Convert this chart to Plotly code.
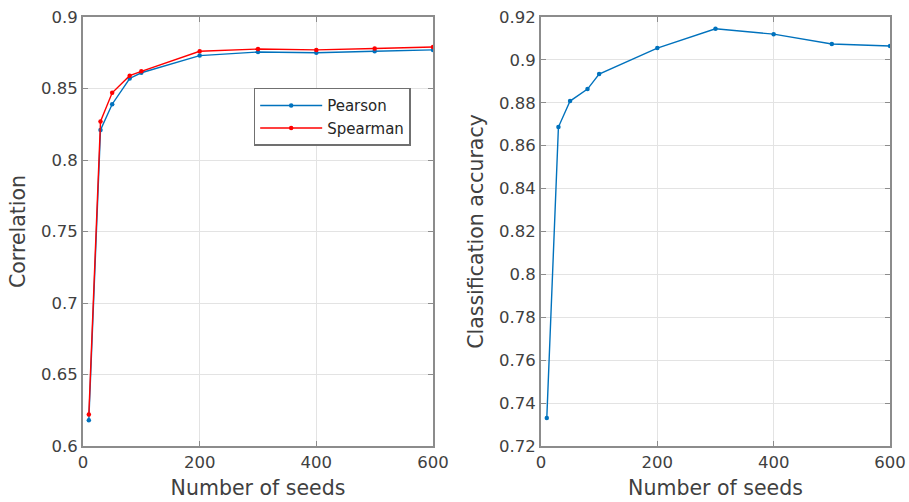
import plotly.graph_objects as go

seeds = [10, 30, 50, 80, 100, 200, 300, 400, 500, 600]
pearson = [0.618, 0.821, 0.839, 0.857, 0.861, 0.873, 0.8755, 0.875, 0.876, 0.877]
spearman = [0.622, 0.827, 0.847, 0.859, 0.862, 0.876, 0.8776, 0.877, 0.878, 0.879]
accuracy = [0.733, 0.8687, 0.8808, 0.8864, 0.8934, 0.9055, 0.9145, 0.912, 0.9074, 0.9065]

x_ticks = [0, 200, 400, 600]
corr_ticks = [0.6, 0.65, 0.7, 0.75, 0.8, 0.85, 0.9]
corr_text = ["0.6", "0.65", "0.7", "0.75", "0.8", "0.85", "0.9"]
acc_ticks = [0.72, 0.74, 0.76, 0.78, 0.8, 0.82, 0.84, 0.86, 0.88, 0.9, 0.92]
acc_text = ["0.72", "0.74", "0.76", "0.78", "0.8", "0.82", "0.84", "0.86", "0.88", "0.9", "0.92"]

BLUE = "#0072BD"
RED = "#FF0000"
AXC = "#8c8c8c"
TXT = "#404040"
GRID = "#e3e3e3"
FONT = "DejaVu Sans"

fig = go.Figure()
fig.add_trace(go.Scatter(x=seeds, y=pearson, mode="lines+markers", name="Pearson",
                         line=dict(color=BLUE, width=1.4), marker=dict(size=4.5, color=BLUE),
                         xaxis="x", yaxis="y"))
fig.add_trace(go.Scatter(x=seeds, y=spearman, mode="lines+markers", name="Spearman",
                         line=dict(color=RED, width=1.4), marker=dict(size=4.5, color=RED),
                         xaxis="x", yaxis="y"))
fig.add_trace(go.Scatter(x=seeds, y=accuracy, mode="lines+markers", name="Accuracy",
                         line=dict(color=BLUE, width=1.4), marker=dict(size=4.5, color=BLUE),
                         xaxis="x2", yaxis="y2", showlegend=False))

common = dict(showline=True, linecolor=AXC, linewidth=2, mirror="ticks", ticks="inside",
              ticklen=5, tickcolor=AXC, tickwidth=1, showgrid=True, gridcolor=GRID,
              gridwidth=1, zeroline=False, automargin=False,
              tickfont=dict(size=16.5, color=TXT, family=FONT))

TF = dict(size=20.5, color=TXT)

fig.update_layout(
    width=909, height=502, autosize=False,
    margin=dict(l=83, r=19, t=17, b=56),
    paper_bgcolor="white", plot_bgcolor="white",
    font=dict(family=FONT, color=TXT),
    xaxis=dict(domain=[0, 0.4337], range=[0, 600], tickvals=x_ticks,
               title=dict(text="Number of seeds", font=TF, standoff=10), **common),
    yaxis=dict(range=[0.6, 0.9], tickvals=corr_ticks, ticktext=corr_text,
               title=dict(text="Correlation", font=TF, standoff=10), **common),
    xaxis2=dict(domain=[0.5675, 1], range=[0, 600], tickvals=x_ticks, anchor="y2",
                title=dict(text="Number of seeds", font=TF, standoff=10), **common),
    yaxis2=dict(range=[0.72, 0.92], tickvals=acc_ticks, ticktext=acc_text, anchor="x2",
                title=dict(text="Classification accuracy", font=TF, standoff=10), **common),
    legend=dict(x=0.2115, xanchor="left", y=0.835, yanchor="top",
                bgcolor="white", bordercolor="#707070", borderwidth=1.5,
                font=dict(size=15, color="#262626", family=FONT),
                tracegroupgap=0, itemwidth=62),
)

fig.write_html("out.html")
